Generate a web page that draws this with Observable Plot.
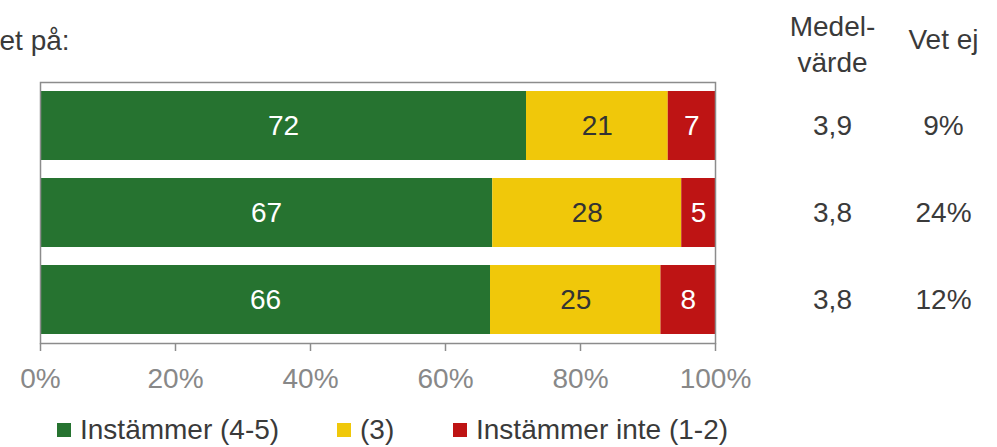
<!DOCTYPE html>
<html>
<head>
<meta charset="utf-8">
<script src="https://cdn.jsdelivr.net/npm/d3@7"></script>
<script src="https://cdn.jsdelivr.net/npm/@observablehq/plot@0.6"></script>
<style>
  html, body { margin: 0; padding: 0; background: #ffffff; }
  #wrap { position: relative; width: 997px; height: 447px; overflow: hidden; font-family: "Liberation Sans", Arial, sans-serif; }
  #legend { position: relative; height: 52px; font-size: 28px; color: #3a3a3a; }
  .item { position: absolute; top: 19px; display: flex; align-items: center; white-space: nowrap; }
  .sw { width: 14px; height: 14px; margin-right: 9px; }
</style>
</head>
<body>
<div id="wrap">
  <div id="chart"></div>
  <div id="legend"></div>
</div>
<script>
// ---- data ----
const rows = ["Påstående 1", "Påstående 2", "Påstående 3"];
const categories = ["Instämmer (4-5)", "(3)", "Instämmer inte (1-2)"];
const agree = [72, 67, 66];
const neutral = [21, 28, 25];
const disagree = [7, 5, 8];
const medelvarde = ["3,9", "3,8", "3,8"];
const vetEj = ["9%", "24%", "12%"];
const xTicks = [0, 0.2, 0.4, 0.6, 0.8, 1];
const colors = ["#267330", "#f0c80a", "#be1414"];
const title = "et på:";
const headMedel = "Medel-\nvärde";
const headVetEj = "Vet ej";

// ---- build table ----
const seriesVals = [agree, neutral, disagree];
const data = [];
rows.forEach((r, i) => {
  categories.forEach((c, j) => data.push({row: r, cat: c, value: seriesVals[j][i]}));
});
const table = rows.map((r, i) => ({row: r, medel: medelvarde[i], vet: vetEj[i]}));

const chart = Plot.plot({
  width: 997,
  height: 395,
  marginTop: 82,
  marginBottom: 52,
  marginLeft: 40,
  marginRight: 282,
  style: {fontFamily: "'Liberation Sans', Arial, sans-serif", fontSize: "28px", background: "#ffffff", color: "#3a3a3a", overflow: "visible"},
  x: {domain: [0, 1], label: null, axis: null},
  y: {domain: rows, paddingInner: 0.21, paddingOuter: 0.105, axis: null},
  color: {domain: categories, range: colors},
  marks: [
    Plot.barX(data, Plot.stackX({x: "value", y: "row", fill: "cat", order: categories, offset: "normalize"})),
    Plot.text(data, Plot.stackX({
      x: "value", y: "row", z: "cat", order: categories, offset: "normalize",
      text: d => String(d.value),
      fill: d => d.cat === "(3)" ? "#333333" : "#ffffff"
    })),
    Plot.frame({stroke: "#8c8c8c", strokeWidth: 1.5}),
    Plot.axisX(xTicks, {tickSize: 8, tickPadding: 17, stroke: "#8c8c8c", strokeWidth: 1.5, fill: "#888888",
      tickFormat: d => Math.round(d * 100) + "%", label: null}),
    Plot.text(table, {y: "row", text: "medel", frameAnchor: "right", dx: 117, textAnchor: "middle", fill: "#3a3a3a"}),
    Plot.text(table, {y: "row", text: "vet", frameAnchor: "right", dx: 228, textAnchor: "middle", fill: "#3a3a3a"}),
    Plot.text([headMedel], {text: d => d, frameAnchor: "top-right", dx: 117, dy: -40, textAnchor: "middle", lineAnchor: "middle", lineHeight: 1.27, fill: "#3a3a3a"}),
    Plot.text([headVetEj], {text: d => d, frameAnchor: "top-right", dx: 228, dy: -42, textAnchor: "middle", lineAnchor: "middle", fill: "#3a3a3a"}),
    Plot.text([title], {text: d => d, frameAnchor: "top-left", dx: -41, dy: -41, textAnchor: "start", lineAnchor: "middle", fill: "#3a3a3a"})
  ]
});
document.getElementById("chart").appendChild(chart);

// ---- legend ----
const legend = document.getElementById("legend");
const legendLeft = [57, 337, 453];
categories.forEach((c, i) => {
  const it = document.createElement("div");
  it.className = "item";
  it.style.left = legendLeft[i] + "px";
  const sw = document.createElement("span");
  sw.className = "sw";
  sw.style.background = colors[i];
  const tx = document.createElement("span");
  tx.textContent = c;
  it.appendChild(sw);
  it.appendChild(tx);
  legend.appendChild(it);
});
</script>
</body>
</html>
